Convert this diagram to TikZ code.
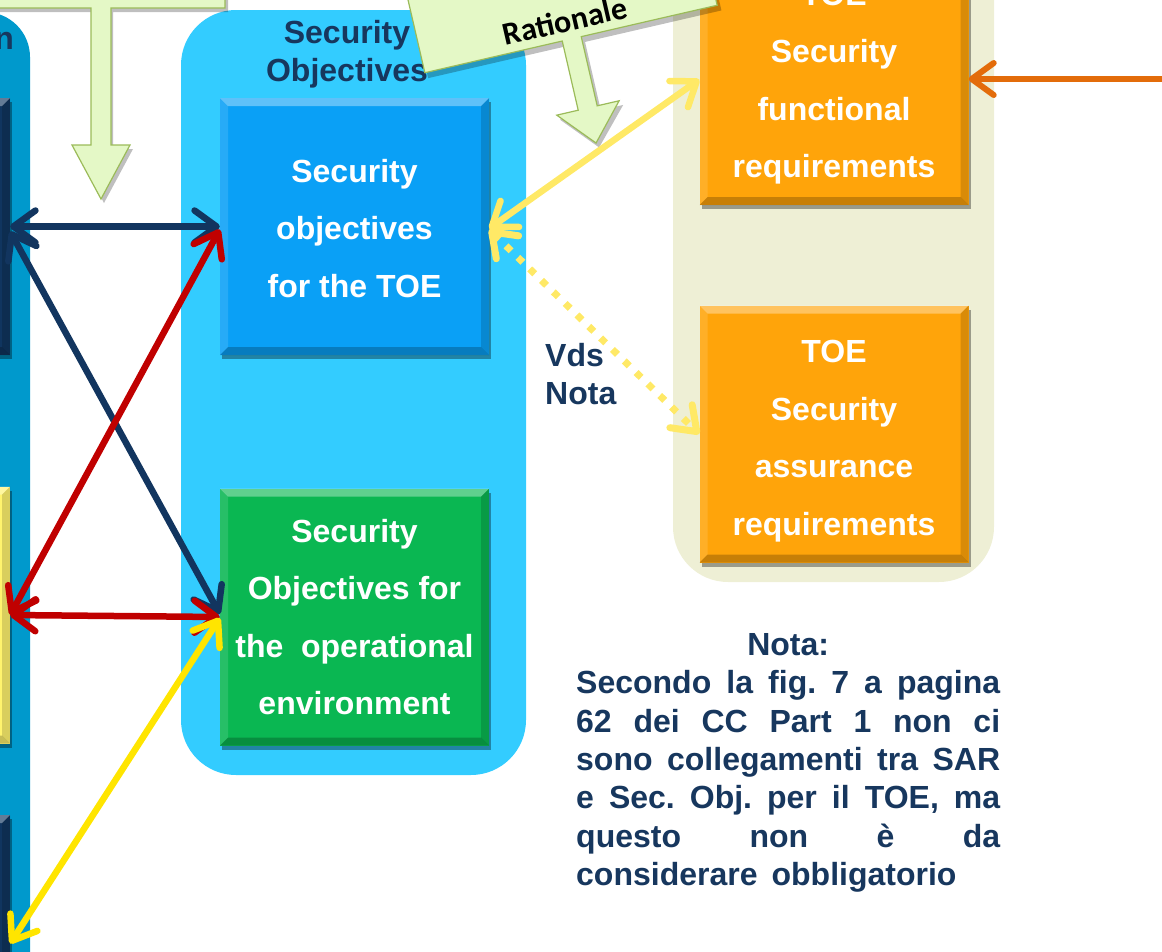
\documentclass[tikz,border=0pt]{standalone}
\usepackage{fontspec}
\setmainfont{Liberation Sans}
\newfontfamily\calibrifont{Carlito}
\usetikzlibrary{arrows.meta,shadows,calc}

\definecolor{navytext}{HTML}{17375E}
\definecolor{groupteal}{HTML}{0099CC}
\definecolor{groupsky}{HTML}{33CCFF}
\definecolor{groupbeige}{HTML}{EEEFD5}
\definecolor{objblue}{HTML}{0AA0F6}
\definecolor{objgreen}{HTML}{0AB752}
\definecolor{reqorange}{HTML}{FFA40A}
\definecolor{boxnavy}{HTML}{10355F}
\definecolor{boxyellow}{HTML}{FFF36E}
\definecolor{arrownavy}{HTML}{12355F}
\definecolor{arrowred}{HTML}{C00000}
\definecolor{arrowyellow}{HTML}{FFE500}
\definecolor{arrowpale}{HTML}{FFE966}
\definecolor{arroworange}{HTML}{E36C0A}
\definecolor{notegreen}{HTML}{E4F8C6}
\definecolor{noteedge}{HTML}{9BBB59}

% a line of the note, spread over the full column width
\newcommand\fullline[1]{\leavevmode\hbox to 424pt{\spaceskip=.28em plus 1fil\xspaceskip=.28em plus 1fil\relax #1}}

\tikzset{
  bevelbox/.style={rectangle, draw=none, fill=#1, minimum width=269pt, minimum height=257pt, inner sep=0pt,
    drop shadow={shadow xshift=2pt, shadow yshift=-4pt, opacity=.35, fill=black},
    path picture={
      \fill[white,opacity=.35] (path picture bounding box.north west) -- (path picture bounding box.north east)
        -- ([shift={(-8pt,-8pt)}]path picture bounding box.north east) -- ([shift={(8pt,-8pt)}]path picture bounding box.north west) -- cycle;
      \fill[white,opacity=.12] (path picture bounding box.north west) -- (path picture bounding box.south west)
        -- ([shift={(8pt,8pt)}]path picture bounding box.south west) -- ([shift={(8pt,-8pt)}]path picture bounding box.north west) -- cycle;
      \fill[black,opacity=.15] (path picture bounding box.north east) -- (path picture bounding box.south east)
        -- ([shift={(-8pt,8pt)}]path picture bounding box.south east) -- ([shift={(-8pt,-8pt)}]path picture bounding box.north east) -- cycle;
      \fill[black,opacity=.22] (path picture bounding box.south west) -- (path picture bounding box.south east)
        -- ([shift={(-8pt,8pt)}]path picture bounding box.south east) -- ([shift={(8pt,8pt)}]path picture bounding box.south west) -- cycle;
    }},
  boxtext/.style={text=white, align=center, font=\fontsize{32}{57.5}\selectfont\bfseries, inner sep=0pt},
  bigtext/.style={text=navytext, inner sep=0pt, font=\fontsize{32}{38}\selectfont\bfseries},
  link/.style={line width=6.5pt, {Straight Barb[length=22pt,width=32pt,round]}-{Straight Barb[length=22pt,width=32pt,round]}},
  noteshape/.style={fill=notegreen, draw=noteedge, line width=1.2pt, line join=miter},
  noteshadow/.style={fill=black, opacity=.25},
}

\begin{document}
\begin{tikzpicture}[x=1pt,y=-1pt]
\useasboundingbox (0,0) rectangle (1162,951);

% group backgrounds
\fill[groupteal, rounded corners=45pt] (-300,12) rectangle (30,1100);
\fill[groupsky, rounded corners=55pt] (181,10) rectangle (526,775);
\fill[groupbeige, rounded corners=55pt] (673,-120) rectangle (994,582);

% group titles
\node[bigtext, anchor=base east] (pdtitle) at (14,49) {n};
\node[bigtext, anchor=north, align=center] (sotitle) at (347,20) {Security\\Objectives};

% boxes of the left group
\node[bevelbox=boxnavy] (probA) at (-124.5,226.5) {};
\node[bevelbox=boxyellow] (probB) at (-124.5,615) {};
\node[bevelbox=boxnavy] (probC) at (-124.5,943.5) {};

% security objectives
\node[bevelbox=objblue] (objtoe) at (354.5,226.5) {};
\node[boxtext] (objtoetext) at ([yshift=-2pt]objtoe.center) {Security\\objectives\\for the TOE};
\node[bevelbox=objgreen] (objenv) at (354.5,617) {};
\node[boxtext] (objenvtext) at (objenv.center) {Security\\Objectives for\\the\ \ operational\\environment};

% requirements
\node[bevelbox=reqorange] (sfr) at (834,76.5) {};
\node[boxtext] (sfrtext) at ([yshift=-7pt]sfr.center) {TOE\\Security\\functional\\requirements};
\node[bevelbox=reqorange] (sar) at (834,434) {};
\node[boxtext] (sartext) at ([yshift=-7pt]sar.center) {TOE\\Security\\assurance\\requirements};

% down arrow from the box above
\fill[noteshadow] (-10,-100) -- (228,-100) -- (228,12) -- (113,12) -- (113,149) -- (133,149) -- (104,203) -- (75,149) -- (95,149) -- (95,12) -- (-10,12) -- cycle;
\draw[noteshape] (-10,-100) -- (225,-100) -- (225,8) -- (111,8) -- (111,145) -- (130,145) -- (101,199) -- (72,145) -- (91,145) -- (91,8) -- (-10,8) -- cycle;

% rationale callout
\begin{scope}[shift={(571,39)}, rotate=13]
  \fill[noteshadow] (-148,-110) -- (153,-110) -- (153,6) -- (13,6) -- (13,76) -- (36,76) -- (3,112) -- (-29,76) -- (-6,76) -- (-6,6) -- (-148,6) -- cycle;
  \draw[noteshape] (-150,-110) -- (150,-110) -- (150,0) -- (10.5,0) -- (10.5,71) -- (33,71) -- (1,107) -- (-31,71) -- (-9,71) -- (-9,0) -- (-150,0) -- cycle;
  \node[anchor=base, rotate=13, inner sep=0pt, font=\calibrifont\bfseries\fontsize{32}{36}\selectfont] (rationale) at (-2,-8) {Rationale};
\end{scope}

% links
\draw[link, arrownavy] (probA.east) -- (objtoe.west);
\draw[link, arrownavy] ([yshift=-5pt]probA.east) -- ([yshift=3pt]objenv.west);
\draw[link, arrowred] (probB.east) -- ([yshift=-3pt]objtoe.west);
\draw[link, arrowred] (probB.east) -- (objenv.west);
\draw[link, arrowyellow] ([yshift=-1pt]objenv.west) -- (probC.east);
\draw[link, arrowpale] ([yshift=-2pt]objtoe.east) -- ([yshift=-3pt]sfr.west);
\draw[link, arrowpale, line width=7pt, dash pattern=on 7pt off 9.5pt] ([yshift=-3pt]objtoe.east) -- (sar.west);
\coordinate (offright) at (1175,79);
\draw[line width=6pt, arroworange, -{Straight Barb[length=22pt,width=32pt,round]}] (offright) -- ([yshift=-2.5pt]sfr.east);

% notes
\node[bigtext, anchor=north west, align=left] (vds) at (545,343) {Vds\\Nota};
\node[bigtext, anchor=north west, text width=424pt, align=left, font=\fontsize{32}{38.4}\selectfont\bfseries] (nota) at (576,633) {%
\leavevmode\hbox to 424pt{\hfil Nota:\hfil}\\
\fullline{Secondo la fig. 7 a pagina}\\
\fullline{62 dei CC Part 1 non ci}\\
\fullline{sono collegamenti tra SAR}\\
\fullline{e Sec. Obj. per il TOE, ma}\\
\fullline{questo non è da}\\
considerare\hspace{14pt}obbligatorio};
\end{tikzpicture}
\end{document}
